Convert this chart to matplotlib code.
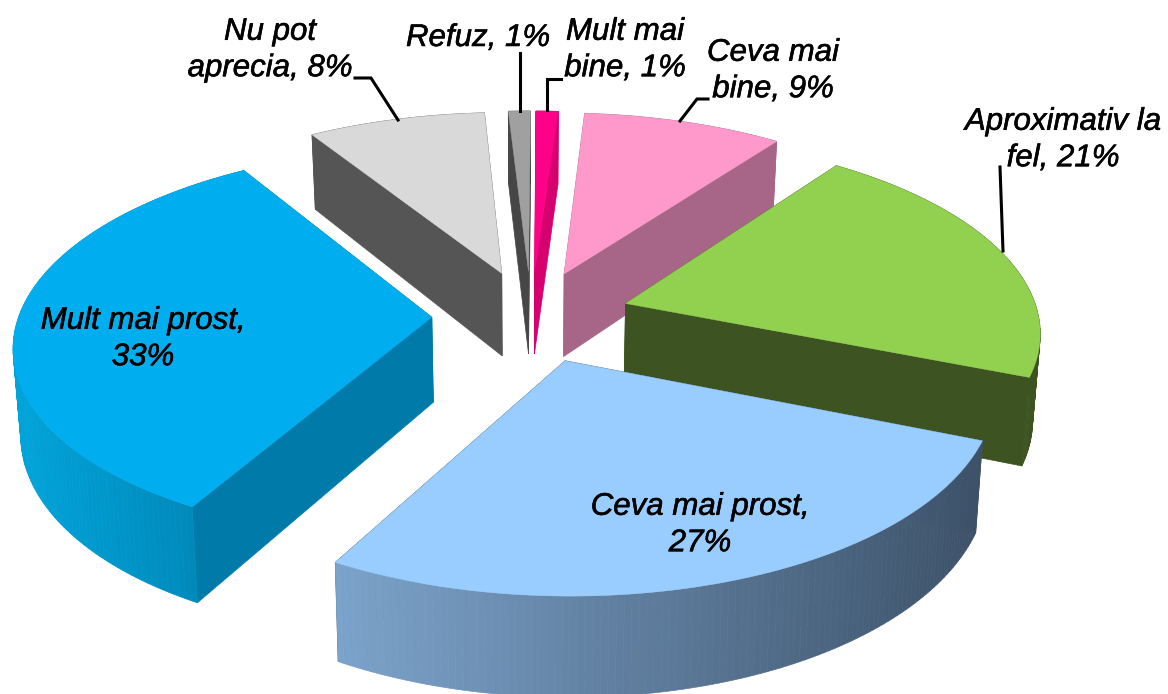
import numpy as np
import matplotlib
matplotlib.use("Agg")
import matplotlib.pyplot as plt
from matplotlib.patches import Polygon
import matplotlib.patheffects as pe

# data, clockwise from 12 o'clock
categories = ["Mult mai\nbine,", "Ceva mai\nbine,", "Aproximativ la\nfel,", "Ceva mai prost,\n", "Mult mai prost,\n", "Nu pot\naprecia,", "Refuz,"]
values = [1, 9, 21, 27, 33, 8, 1]
top_colors = ["#FF0088", "#FF99CC", "#92D050", "#99CCFF", "#00AEEF", "#D9D9D9", "#A0A0A0"]
side_colors = ["#D6006E", "#A76688", "#3E5322", "#3D5269", "#007AA8", "#555555", "#464646"]
wall_left = ["#D6006E", "#A76688", "#3E5322", "#7CA3CB", "#00A4DA", "#555555", "#464646"]
wall_right = ["#D6006E", "#A76688", "#3E5322", "#3D5269", "#0082B2", "#555555", "#464646"]
draw_order = [6, 0, 1, 5, 2, 4, 3]
label_pos = [(625, 50), (773, 71), (1063, 140), (700, 525), (143, 339), (270, 50), (478, 38)]

# projection
CX, CY, RX, RY, K, H, EXPLODE, BOTTOM = 531, 316, 413, 192, 0.13, 85, 0.24, 0.985
START = np.deg2rad(0.3)

def project(u, v, low=False):
    s = 1 / (1 + K * v)
    x = RX * u * s
    y = -RY * v * s
    if low:
        return CX + x * BOTTOM, CY + y + H * s
    return CX + x, CY + y

def rgb(c):
    return np.array(matplotlib.colors.to_rgb(c))

fig = plt.figure(figsize=(11.68, 6.94), dpi=100)
ax = fig.add_axes([0, 0, 1, 1])
ax.set_xlim(0, 1168)
ax.set_ylim(694, 0)
ax.axis("off")

fractions = np.array(values) / np.sum(values)
edges = START + np.concatenate([[0], np.cumsum(fractions)]) * 2 * np.pi

for rank, i in enumerate(draw_order):
    a0, a1 = edges[i], edges[i + 1]
    mid = (a0 + a1) / 2
    ou, ov = EXPLODE * np.sin(mid), EXPLODE * np.cos(mid)
    th = np.linspace(a0, a1, max(6, int(values[i] * 4)))
    us = ou + np.sin(th)
    vs = ov + np.cos(th)
    z = 10 + rank * 3
    # radial side walls
    for a in (a0, a1):
        ue, ve = ou + np.sin(a), ov + np.cos(a)
        quad = [project(ou, ov), project(ue, ve), project(ue, ve, True), project(ou, ov, True)]
        ax.add_patch(Polygon(quad, closed=True, fc=side_colors[i], ec=side_colors[i], lw=0.5, zorder=z))
    # outer wall with horizontal gradient
    tx = np.array([project(u, v)[0] for u, v in zip(us, vs)])
    span = max(tx.max() - tx.min(), 1)
    for j in range(len(th) - 1):
        t = ((tx[j] + tx[j + 1]) / 2 - tx.min()) / span
        col = rgb(wall_left[i]) * (1 - t) + rgb(wall_right[i]) * t
        quad = [project(us[j], vs[j]), project(us[j + 1], vs[j + 1]),
                project(us[j + 1], vs[j + 1], True), project(us[j], vs[j], True)]
        ax.add_patch(Polygon(quad, closed=True, fc=col, ec=col, lw=0.5, zorder=z + 1))
    # top face
    pts = [project(ou, ov)] + [project(u, v) for u, v in zip(us, vs)]
    ax.add_patch(Polygon(pts, closed=True, fc=top_colors[i], ec=top_colors[i], lw=0.3, zorder=z + 2))

# leader lines
leaders = [([355, 371, 398], [78, 78, 120]), ([520, 520], [53, 111]), ([561, 547, 547], [79, 79, 110]),
           ([708, 697, 680], [99, 99, 121]), ([1000, 1003], [167, 251])]
for xs, ys in leaders:
    ax.plot(xs, ys, color="black", lw=2.2, solid_joinstyle="miter", zorder=60)

for i, (x, y) in enumerate(label_pos):
    ax.text(x, y, f"{categories[i]} {values[i]}%".replace("\n ", "\n"), ha="center", va="center", fontsize=22.5,
            style="italic", family="Liberation Sans", linespacing=1.28, color="black", zorder=70,
            path_effects=[pe.withStroke(linewidth=0.4, foreground="black")])

fig.savefig("out.png", dpi=100, facecolor="white")
